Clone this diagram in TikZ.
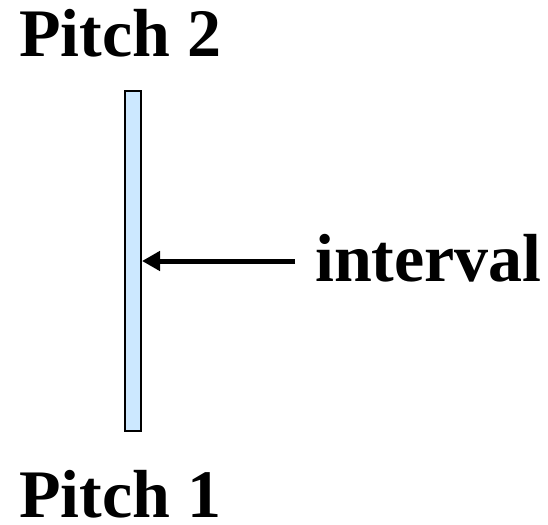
\documentclass[tikz,border=0pt]{standalone}
\usepackage{fontspec}
\setmainfont{Liberation Serif}
\usetikzlibrary{arrows.meta}
\definecolor{barfill}{RGB}{204,232,255}
\tikzset{
  label/.style={font=\bfseries\fontsize{68}{68}\selectfont, inner sep=0pt, anchor=base west},
  pitchbar/.style={draw=black, line width=2pt, fill=barfill, inner sep=0pt,
                   minimum width=16pt, minimum height=340pt},
  pointer/.style={line width=5pt, -{Triangle[length=18pt,width=19pt]}}
}
\begin{document}
\begin{tikzpicture}[x=1pt,y=-1pt]
  \useasboundingbox (0,0) rectangle (548,524);
  \node[label] (top) at (19,57) {Pitch 2};
  \node[label] (bottom) at (19,517) {Pitch 1};
  \node[pitchbar] (bar) at (133,261) {};
  \node[label] (lbl) at (315,281) {interval};
  \coordinate (tail) at (295,261);
  \draw[pointer] (tail) -- (bar.east);
\end{tikzpicture}
\end{document}
